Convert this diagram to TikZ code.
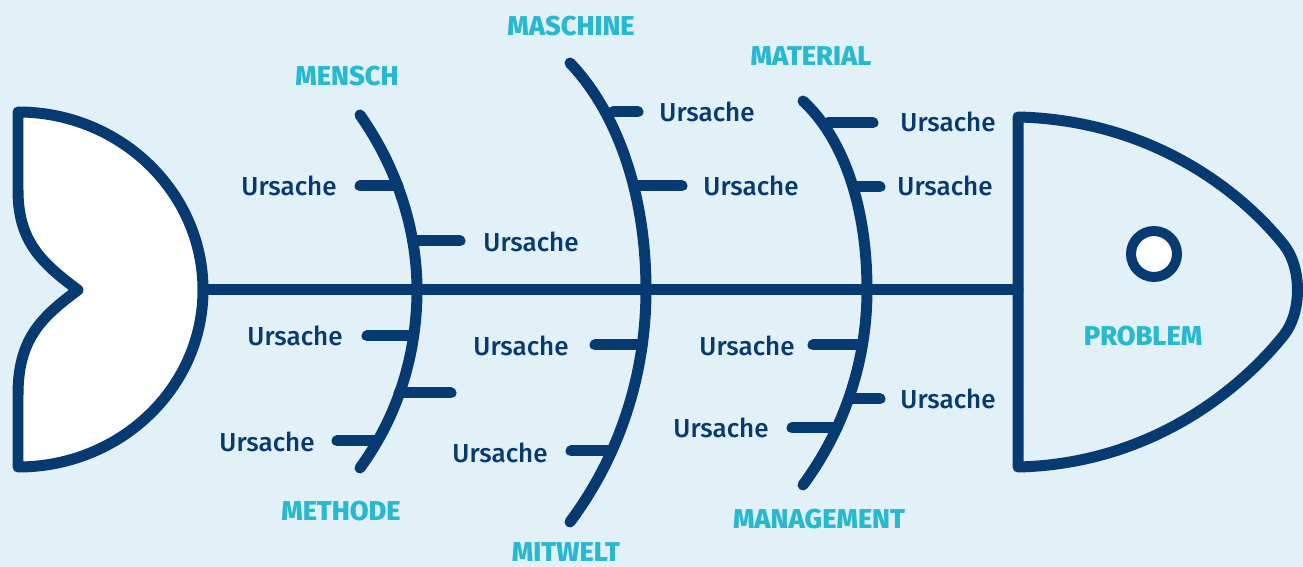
\documentclass[tikz,border=0pt]{standalone}
\usepackage{fontspec}
\setmainfont{Fira Sans}[UprightFont={* Medium},BoldFont={* ExtraBold}]
\definecolor{navy}{HTML}{063A70}
\definecolor{cyanlab}{HTML}{28B8D0}
\definecolor{bgc}{HTML}{E1F1F7}
\tikzset{
  bone/.style={draw=navy, line width=0.22cm, line cap=round, line join=round},
  cause/.style={text=navy, inner sep=0pt, font=\fontsize{14.8}{17}\selectfont},
  cat/.style={text=cyanlab, inner sep=0pt, font=\bfseries\fontsize{15.5}{18}\selectfont},
}
\begin{document}
\begin{tikzpicture}[x=0.02cm,y=-0.02cm]
\fill[bgc] (0,0) rectangle (1303,567);
\useasboundingbox (0,0) rectangle (1303,567);

% key points
\coordinate (tailR) at (203,290);
\coordinate (headL) at (1018,290);
\draw[bone] (tailR) -- (headL);

% ribs
\coordinate (t1) at (360,115); \coordinate (s1) at (417,290); \coordinate (e1) at (360,468);
\coordinate (t2) at (570,63);  \coordinate (s2) at (646,290); \coordinate (e2) at (570,522);
\coordinate (t3) at (803,101); \coordinate (s3) at (867,290); \coordinate (e3) at (803,485);
\draw[bone] (t1) .. controls (396,166) and (417,228) .. (s1) .. controls (417,354) and (398,416) .. (e1);
\draw[bone] (t2) .. controls (615,110) and (646,190) .. (s2) .. controls (646,374) and (620,455) .. (e2);
\draw[bone] (t3) .. controls (840,135) and (867,200) .. (s3) .. controls (867,360) and (845,428) .. (e3);

% branches rib 1
\coordinate (r1a) at (398,186); \coordinate (b1a) at (360,186);
\coordinate (r1b) at (413,241); \coordinate (b1b) at (460,241);
\coordinate (r1c) at (413,336); \coordinate (b1c) at (367,336);
\coordinate (r1d) at (399,393); \coordinate (b1d) at (451,393);
\coordinate (r1e) at (377,441); \coordinate (b1e) at (337,441);
% branches rib 2
\coordinate (r2a) at (613,112); \coordinate (b2a) at (638,112);
\coordinate (r2b) at (638,186); \coordinate (b2b) at (682,186);
\coordinate (r2c) at (642,345); \coordinate (b2c) at (595,345);
\coordinate (r2d) at (611,451); \coordinate (b2d) at (571,451);
% branches rib 3
\coordinate (r3a) at (828,123); \coordinate (b3a) at (873,123);
\coordinate (r3b) at (855,187); \coordinate (b3b) at (880,187);
\coordinate (r3c) at (862,345); \coordinate (b3c) at (813,345);
\coordinate (r3d) at (853,399); \coordinate (b3d) at (880,399);
\coordinate (r3e) at (837,428); \coordinate (b3e) at (792,428);
\foreach \b in {1a,1b,1c,1d,1e,2a,2b,2c,2d,3a,3b,3c,3d,3e}
  \draw[bone] (b\b) -- (r\b);

% tail
\draw[bone, fill=white] (18,112) .. controls (120,112) and (203,192) .. (tailR)
  .. controls (203,388) and (120,467) .. (18,467) -- (18,395)
  .. controls (18,340) and (40,318) .. (78,290)
  .. controls (40,262) and (18,240) .. (18,190) -- cycle;

% head
\draw[bone] (1018,117) .. controls (1150,120) and (1240,190) .. (1284,245)
  .. controls (1302,268) and (1302,312) .. (1284,335)
  .. controls (1240,390) and (1150,464) .. (1018,467) -- cycle;
\draw[draw=navy, line width=0.2cm, fill=white] (1154,254) circle[radius=0.46cm];

% cause labels
\node[cause] (u1a) at (289,186) {Ursache};
\node[cause] (u1b) at (531,242) {Ursache};
\node[cause] (u1c) at (295,336) {Ursache};
\node[cause] (u1d) at (267,442) {Ursache};
\node[cause] (u2a) at (707,112) {Ursache};
\node[cause] (u2b) at (751,186) {Ursache};
\node[cause] (u2c) at (521,346) {Ursache};
\node[cause] (u2d) at (500,453) {Ursache};
\node[cause] (u3a) at (948,122) {Ursache};
\node[cause] (u3b) at (945,186) {Ursache};
\node[cause] (u3c) at (747,346) {Ursache};
\node[cause] (u3d) at (948,399) {Ursache};
\node[cause] (u3e) at (721,428) {Ursache};

% category labels
\node[cat] (mensch) at (347,76) {MENSCH};
\node[cat] (maschine) at (571,26) {MASCHINE};
\node[cat] (material) at (811,56) {MATERIAL};
\node[cat] (methode) at (341,511) {METHODE};
\node[cat] (mitwelt) at (566,552) {MITWELT};
\node[cat] (management) at (819,519) {MANAGEMENT};
\node[cat] (problem) at (1143,336) {PROBLEM};
\end{tikzpicture}
\end{document}
